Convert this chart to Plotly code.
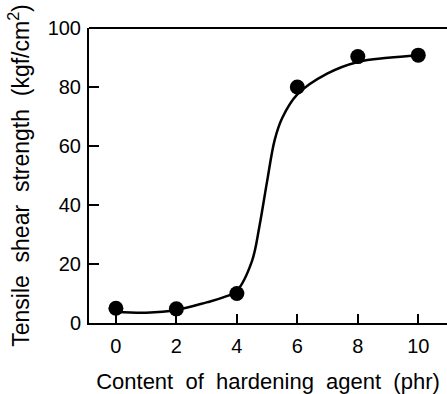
import plotly.graph_objects as go

# measured points
content_phr = [0, 2, 4, 6, 8, 10]
strength = [5, 4.8, 10, 80, 90.3, 90.8]

# smooth curve
curve_x = [0, 1, 2, 3, 3.5, 4, 4.5, 4.75, 5, 5.25, 5.5, 6, 7, 8, 9, 10]
curve_y = [3.8, 3.5, 4.4, 7.0, 8.5, 11.0, 21, 33, 48, 62, 69.5, 77.5, 84.6, 88.5, 89.9, 90.8]

x_ticks = [0, 2, 4, 6, 8, 10]
y_ticks = [0, 20, 40, 60, 80, 100]

X_TITLE = "Content of hardening agent (phr)"
Y_TITLE_WORDS = ["Tensile", "shear", "strength", "(kgf/cm<sup>2</sup>)"]

FONT = "Liberation Sans, Arial, Helvetica, sans-serif"
SP2 = "\u00a0\u00a0"

fig = go.Figure()
fig.add_trace(go.Scatter(x=curve_x, y=curve_y, mode="lines",
                         line=dict(color="black", width=2.5, shape="spline", smoothing=1.0),
                         hoverinfo="skip", showlegend=False))
fig.add_trace(go.Scatter(x=content_phr, y=strength, mode="markers",
                         marker=dict(color="black", size=15),
                         showlegend=False))

fig.update_layout(
    width=447, height=394,
    margin=dict(l=89, r=0, t=28, b=71),
    paper_bgcolor="white", plot_bgcolor="white",
    font=dict(family=FONT, color="black", size=20),
    xaxis=dict(range=[-0.89, 10.95], tickvals=x_ticks, ticktext=[str(v) for v in x_ticks],
               ticks="inside", ticklen=9, tickwidth=1.5, tickcolor="black",
               showline=True, linecolor="black", linewidth=2, showgrid=False, zeroline=False,
               ticklabelstandoff=4,
               title=dict(text=X_TITLE.replace(" ", SP2), standoff=18,
                          font=dict(size=22))),
    yaxis=dict(range=[0, 100], tickvals=y_ticks, ticktext=[str(v) for v in y_ticks],
               ticks="inside", ticklen=10, tickwidth=1.5, tickcolor="black",
               showline=True, linecolor="black", linewidth=2, showgrid=False, zeroline=False,
               ticklabelstandoff=2,
               title=dict(text=SP2.join(Y_TITLE_WORDS),
                          standoff=12, font=dict(size=23))),
)
fig.add_shape(type="line", xref="paper", yref="paper", x0=0, x1=1, y0=1, y1=1,
              line=dict(color="black", width=2))

fig.write_html("out.html")
